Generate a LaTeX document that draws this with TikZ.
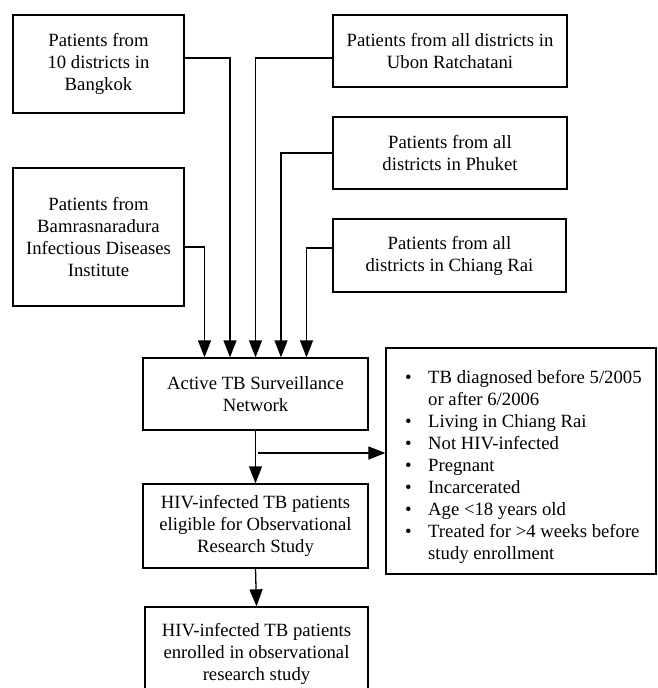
\documentclass[tikz,border=0pt]{standalone}
\usepackage{fontspec}
\setmainfont{Liberation Serif}
\usetikzlibrary{arrows.meta}
\begin{document}
\begin{tikzpicture}[x=1pt,y=-1pt,
  box/.style={draw, line width=1.3pt, align=center, inner sep=0pt, font=\fontsize{18.7}{22}\selectfont},
  conn/.style={line width=1.3pt},
  arr/.style={conn, -{Triangle[width=13pt,length=17pt]}}]
\useasboundingbox (0,0) rectangle (658,688);
\node[box, minimum width=171pt, minimum height=98pt] (bk) at (98.5,64) {Patients from\\10 districts in\\Bangkok};
\node[box, minimum width=171pt, minimum height=138pt] (bam) at (98.5,237) {Patients from\\Bamrasnaradura\\Infectious Diseases\\Institute};
\node[box, minimum width=234pt, minimum height=72pt] (ub) at (450,51) {Patients from all districts in\\Ubon Ratchatani};
\node[box, minimum width=234pt, minimum height=72pt] (ph) at (450,153) {Patients from all\\districts in Phuket};
\node[box, minimum width=233pt, minimum height=73pt] (cr) at (449.5,255.5) {Patients from all\\districts in Chiang Rai};
\node[box, minimum width=225pt, minimum height=72pt] (act) at (255.5,394) {Active TB Surveillance\\Network};
\node[box, minimum width=225pt, minimum height=84pt] (elig) at (255.5,526) {HIV-infected TB patients\\eligible for Observational\\Research Study};
\node[box, minimum width=223pt, minimum height=93pt] (enr) at (256.5,653.5) {HIV-infected TB patients\\enrolled in observational\\research study};
\node[box, minimum width=270pt, minimum height=226pt] (ex) at (521,461) {};
\node[anchor=west, inner sep=0pt, align=left, font=\fontsize{18.7}{22}\selectfont] (exl) at (405,467.5) {%
\begin{tabular}{@{}l@{}l@{}}
\makebox[23pt][l]{\textbullet} & TB diagnosed before 5/2005\\
 & or after 6/2006\\
\textbullet & Living in Chiang Rai\\
\textbullet & Not HIV-infected\\
\textbullet & Pregnant\\
\textbullet & Incarcerated\\
\textbullet & Age <18 years old\\
\textbullet & Treated for >4 weeks before\\
 & study enrollment
\end{tabular}};
\draw[arr] ([yshift=6pt]bk.east) -| ([xshift=-25.5pt]act.north);
\draw[arr] ([yshift=-10pt]bam.east) -| ([xshift=-51pt]act.north);
\draw[arr] ([yshift=-7pt]ub.west) -| (act.north);
\draw[arr] (ph.west) -| ([xshift=25.5pt]act.north);
\draw[arr] ([yshift=7.5pt]cr.west) -| ([xshift=51pt]act.north);
\draw[arr] (act.south) -- (elig.north);
\coordinate (br) at (258,453);
\draw[arr] (br) -- (br -| ex.west);
\draw[arr] (elig.south) -- (enr.north);
\end{tikzpicture}
\end{document}
